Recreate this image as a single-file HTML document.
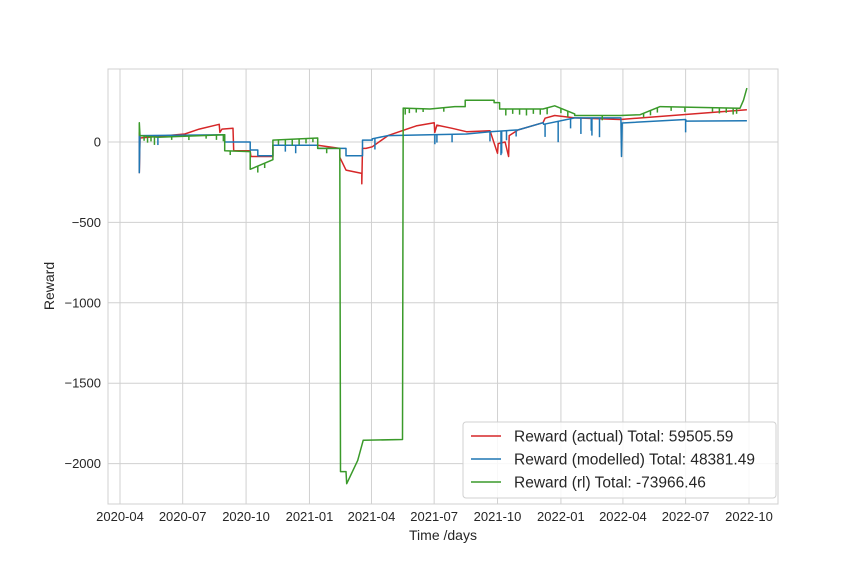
<!DOCTYPE html>
<html><head><meta charset="utf-8"><style>
body{margin:0;background:#fff;font-family:"Liberation Sans",sans-serif}
svg text{font-family:"Liberation Sans",sans-serif;fill:#262626}
</style></head><body>
<svg id="chart" width="864" height="576" xmlns="http://www.w3.org/2000/svg"></svg>
<script>
// days since 2020-04-01
const xTickLabels=["2020-04","2020-07","2020-10","2021-01","2021-04","2021-07","2021-10","2022-01","2022-04","2022-07","2022-10"];
const xTickDays=[0,91,183,275,365,456,548,640,730,821,913];
const yTicks=[0,-500,-1000,-1500,-2000];
const yTickLabels=["0","\u2212500","\u22121000","\u22121500","\u22122000"];
const redDays=[28,28,29,94,115,144,145,148,164,165,189,190,200,222,222,287,319,319,328,351,351,352,357,366,389,430,456,457,460,482,503,537,548,549,559,564,565,578,614,617,631,660,726,910];
const redVals=[60,-190,25,50,80,110,60,80,85,-55,-55,-90,-90,-90,-20,-20,-40,-95,-175,-195,-260,-40,-40,-30,40,100,120,60,105,85,64,70,-70,-10,0,-90,40,75,120,148,165,150,140,200];
const blueDays=[28,28,29,152,152,189,189,200,200,222,222,287,287,328,328,352,352,366,366,389,503,537,578,614,615,660,727,728,729,821,822,910];
const blueVals=[40,-190,40,45,0,0,-50,-50,-85,-85,-20,-20,-40,-40,-85,-85,12,12,20,40,50,64,75,120,110,150,150,-90,118,140,130,132];
const blueSpikeDays=[55,240,255,370,457,460,482,537,553,554,561,575,617,636,654,669,684,685,696,821];
const blueSpikeDepth=[60,40,50,70,60,50,50,60,150,140,60,40,80,130,60,100,80,110,120,80];
const greenDays=[28,28,29,55,152,152,189,189,222,222,287,287,319,320,328,329,345,353,410,411,450,486,501,501,543,543,551,551,614,631,660,660,726,755,784,900,905,910];
const greenVals=[40,120,40,30,45,-55,-60,-170,-110,12,25,-40,-40,-2050,-2050,-2125,-1980,-1855,-1850,211,205,220,220,260,260,245,245,205,205,225,175,165,165,170,220,210,260,335];
const greenSpikeDays=[35,40,45,50,75,100,125,140,150,160,200,210,230,240,250,260,270,280,300,414,420,430,440,470,560,570,580,590,600,610,620,640,650,700,760,770,780,800,820,860,870,880,890,895];
const greenSpikeDepth=[30,40,30,50,20,25,20,30,40,25,40,30,30,35,40,35,30,25,30,40,30,25,20,25,40,30,35,40,30,35,40,30,35,30,25,30,30,25,30,25,35,30,40,35];
const NS="http://www.w3.org/2000/svg";
const svg=document.getElementById('chart');
const L=108,R=778,T=69,B=504;
const X=d=>120+d*(629/913);
const Y=v=>142-v*0.1608;
function el(t,a,p){const e=document.createElementNS(NS,t);for(const k in a)e.setAttribute(k,a[k]);(p||svg).appendChild(e);return e;}
const bg=el('rect',{x:L,y:T,width:R-L,height:B-T,fill:'#fff'});


xTickDays.forEach((d,i)=>{
 const g=el('line',{x1:X(d),x2:X(d),y1:T,y2:B,stroke:'#d0d0d0','stroke-width':1});
 
 
 const t=el('text',{x:X(d),y:521,'font-size':13,'text-anchor':'middle'});t.textContent=xTickLabels[i];
 
 
});
yTicks.forEach((v,i)=>{
 const g=el('line',{x1:L,x2:R,y1:Y(v),y2:Y(v),stroke:'#d0d0d0','stroke-width':1});
 
 
 const t=el('text',{x:101,y:Y(v)+4.5,'font-size':13,'text-anchor':'end'});t.textContent=yTickLabels[i];
 
 
});
const fr=el('rect',{x:L,y:T,width:R-L,height:B-T,fill:'none',stroke:'#d0d0d0'});


function valAt(days,vals,d){for(let i=0;i<days.length-1;i++){if(d>=days[i]&&d<=days[i+1]){const t=days[i+1]===days[i]?1:(d-days[i])/(days[i+1]-days[i]);return vals[i]+(vals[i+1]-vals[i])*t;}}return vals[vals.length-1];}
function series(days,vals,sd,sv,color,name){
 let pts=days.map((d,i)=>X(d).toFixed(1)+','+Y(vals[i]).toFixed(1)).join(' ');
 const p=el('polyline',{points:pts,fill:'none',stroke:color,'stroke-width':1.5,'stroke-linejoin':'round'});
 
 
 (sd||[]).forEach((d,i)=>{const v=valAt(days,vals,d);
  const s=el('line',{x1:X(d),x2:X(d),y1:Y(v),y2:Y(v-sv[i]),stroke:color,'stroke-width':1.5});
  
  });
}
series(redDays,redVals,null,null,'#d62728','series-actual');
series(blueDays,blueVals,blueSpikeDays,blueSpikeDepth,'#1f77b4','series-modelled');
series(greenDays,greenVals,greenSpikeDays,greenSpikeDepth,'#3a9a2a','series-rl');
const yl=el('text',{x:54,y:286,'font-size':14,'text-anchor':'middle',transform:'rotate(-90 54 286)'});yl.textContent='Reward';


const xl=el('text',{x:443,y:540,'font-size':14,'text-anchor':'middle'});xl.textContent='Time /days';


const lg=el('rect',{x:463,y:422,width:313,height:76,rx:3,fill:'#fff','fill-opacity':0.85,stroke:'#d0d0d0'});


const legendLabels=["Reward (actual) Total: 59505.59","Reward (modelled) Total: 48381.49","Reward (rl) Total: -73966.46"];
const legendColors=['#d62728','#1f77b4','#3a9a2a'];
legendLabels.forEach((s,i)=>{const y=436+i*23;
 const l=el('line',{x1:471,x2:501,y1:y,y2:y,stroke:legendColors[i],'stroke-width':1.5});
 
 
 const t=el('text',{x:514,y:y+5.5,'font-size':15.5});t.textContent=s;
 
 
});
</script>
</body></html>
